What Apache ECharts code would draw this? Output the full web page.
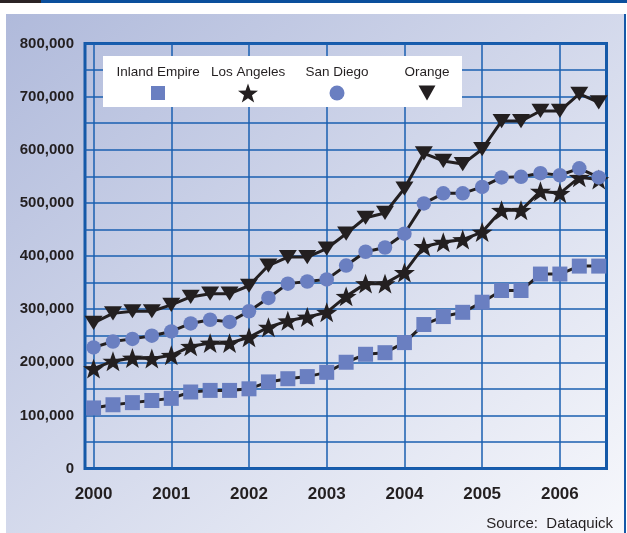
<!DOCTYPE html>
<html>
<head>
<meta charset="utf-8">
<script src="https://cdn.jsdelivr.net/npm/echarts@6/dist/echarts.min.js"></script>
<style>
  body { margin: 0; background: #fff; }
  #wrap { position: relative; width: 627px; height: 533px; overflow: hidden; }
  .strip { position: absolute; top: 0; height: 3px; }
  #panel { position: absolute; left: 6px; top: 14px; width: 618px; height: 519px;
    background: linear-gradient(to bottom right, #b0badb, #f7f8fc); }
  #edge { position: absolute; left: 624px; top: 14px; width: 2px; height: 519px; background: #1559a8; }
  #chart { position: absolute; left: 0; top: 0; width: 627px; height: 533px; }
</style>
</head>
<body>
<div id="wrap">
  <div class="strip" style="left:0;width:41px;background:#2b2325"></div>
  <div class="strip" style="left:41px;width:586px;background:#0b4f9c"></div>
  <div id="panel"></div>
  <div id="edge"></div>
  <div id="chart"></div>
</div>
<script>
// quarterly points, 2000 Q1 .. 2006 Q3
var quarters = [2000, 2000.25, 2000.5, 2000.75, 2001, 2001.25, 2001.5, 2001.75,
    2002, 2002.25, 2002.5, 2002.75, 2003, 2003.25, 2003.5, 2003.75,
    2004, 2004.25, 2004.5, 2004.75, 2005, 2005.25, 2005.5, 2005.75,
    2006, 2006.25, 2006.5];
var yearLabels = [2000, 2001, 2002, 2003, 2004, 2005, 2006];

var inlandEmpire = [114000, 120000, 124000, 128000, 132000, 144000, 147000, 147000,
    150000, 163000, 169000, 173000, 181000, 200000, 215000, 218000,
    237000, 271000, 286000, 294000, 313000, 335000, 335000, 366000,
    366000, 381000, 381000];
var losAngeles = [188000, 202000, 208000, 207000, 213000, 230000, 236000, 236000,
    247000, 266000, 278000, 285000, 294000, 324000, 348000, 348000,
    369000, 418000, 426000, 431000, 445000, 486000, 486000, 522000,
    518000, 548000, 544000];
var sanDiego = [228000, 239000, 244000, 250000, 258000, 273000, 280000, 276000,
    296000, 321000, 348000, 352000, 356000, 382000, 408000, 416000,
    442000, 499000, 518000, 518000, 530000, 548000, 549000, 556000,
    552000, 565000, 548000];
var orange = [274000, 292000, 296000, 296000, 308000, 323000, 329000, 329000,
    344000, 382000, 398000, 398000, 414000, 442000, 472000, 481000,
    527000, 593000, 579000, 573000, 601000, 654000, 654000, 673000,
    673000, 705000, 689000];

var seriesNames = ['Inland Empire', 'Los Angeles', 'San Diego', 'Orange'];

var blue = '#6a7fc1';
var ink = '#231f20';
var gridBlue = '#1a5fb0';
var starPath = 'path://M10,0 L12.351,6.764 L19.511,6.910 L13.804,11.236 L15.878,18.090 L10,14 L4.122,18.090 L6.196,11.236 L0.489,6.910 L7.649,6.764 Z';
var downTriangle = 'path://M0,0 L18,0 L9,16 Z';
var font = 'Liberation Sans';

function pairs(vals) {
    return quarters.map(function (q, i) { return [q, vals[i]]; });
}

function makeSeries(name, vals, symbol, size, color) {
    return {
        name: name,
        type: 'line',
        data: pairs(vals),
        symbol: symbol,
        symbolSize: size,
        symbolKeepAspect: true,
        showAllSymbol: true,
        lineStyle: { color: ink, width: 3 },
        itemStyle: { color: color, opacity: 1 },
        emphasis: { disabled: true },
        z: 3
    };
}

// legend: name centred above its marker
// textW is the rough width of the name at 13.5px, the trailing blank
// lines push the name one and a half lines above the icon
function makeLegend(name, icon, w, h, textLeft, textW) {
    var shiftX = w / 2 + 5 + textW / 2;
    return {
        data: [{ name: name, icon: icon }],
        left: textLeft,
        top: 65,
        padding: 0,
        itemWidth: w,
        itemHeight: h,
        selectedMode: false,
        formatter: function (n) { return n + '\n\n\n'; },
        textStyle: {
            fontFamily: font, fontSize: 13.5, lineHeight: 14, color: ink,
            padding: [0, shiftX, 0, -shiftX]
        }
    };
}

var myChart = echarts.init(document.getElementById('chart'), null, { renderer: 'canvas' });

var option = {
    backgroundColor: 'transparent',
    animation: false,
    grid: {
        left: 85, right: 20.5, top: 43.5, bottom: 64.5,
        show: true,
        borderColor: '#1559a8',
        borderWidth: 3,
        backgroundColor: 'transparent'
    },
    graphic: [{
        type: 'rect',
        left: 103, top: 56,
        shape: { width: 359, height: 51 },
        style: { fill: '#ffffff' },
        z: 2
    }],
    title: {
        text: 'Source:  Dataquick',
        right: 14, top: 516, padding: 0,
        textStyle: { fontFamily: font, fontSize: 15, fontWeight: 'normal', color: ink }
    },
    legend: [
        makeLegend(seriesNames[0], 'rect', 14, 14, 116.5, 83),
        makeLegend(seriesNames[1], starPath, 20, 19, 211, 74),
        makeLegend(seriesNames[2], 'circle', 15, 15, 305.5, 63),
        makeLegend(seriesNames[3], downTriangle, 17, 15, 404.5, 45)
    ],
    xAxis: {
        type: 'value',
        min: 1999.89,
        max: 2006.6,
        axisLine: { show: false },
        axisTick: { show: false, customValues: yearLabels },
        axisLabel: {
            customValues: yearLabels,
            margin: 17,
            fontFamily: font, fontSize: 17, fontWeight: 'bold', color: ink,
            formatter: function (v) { return String(v); }
        },
        splitLine: { show: true, lineStyle: { color: gridBlue, width: 1.5 } }
    },
    yAxis: {
        type: 'value',
        min: 0,
        max: 800000,
        interval: 50000,
        axisLine: { show: false },
        axisTick: { show: false },
        axisLabel: {
            margin: 11,
            fontFamily: font, fontSize: 15, fontWeight: 'bold', color: ink,
            formatter: function (v) {
                if (v % 100000 !== 0) return '';
                return String(v).replace(/\B(?=(\d{3})+(?!\d))/g, ',');
            }
        },
        splitLine: { show: true, lineStyle: { color: gridBlue, width: 1.5 } }
    },
    series: [
        makeSeries(seriesNames[0], inlandEmpire, 'rect', 15, blue),
        makeSeries(seriesNames[1], losAngeles, starPath, 21, ink),
        makeSeries(seriesNames[2], sanDiego, 'circle', 14.5, blue),
        makeSeries(seriesNames[3], orange, downTriangle, [18, 16], ink)
    ]
};

myChart.setOption(option);
</script>
</body>
</html>
